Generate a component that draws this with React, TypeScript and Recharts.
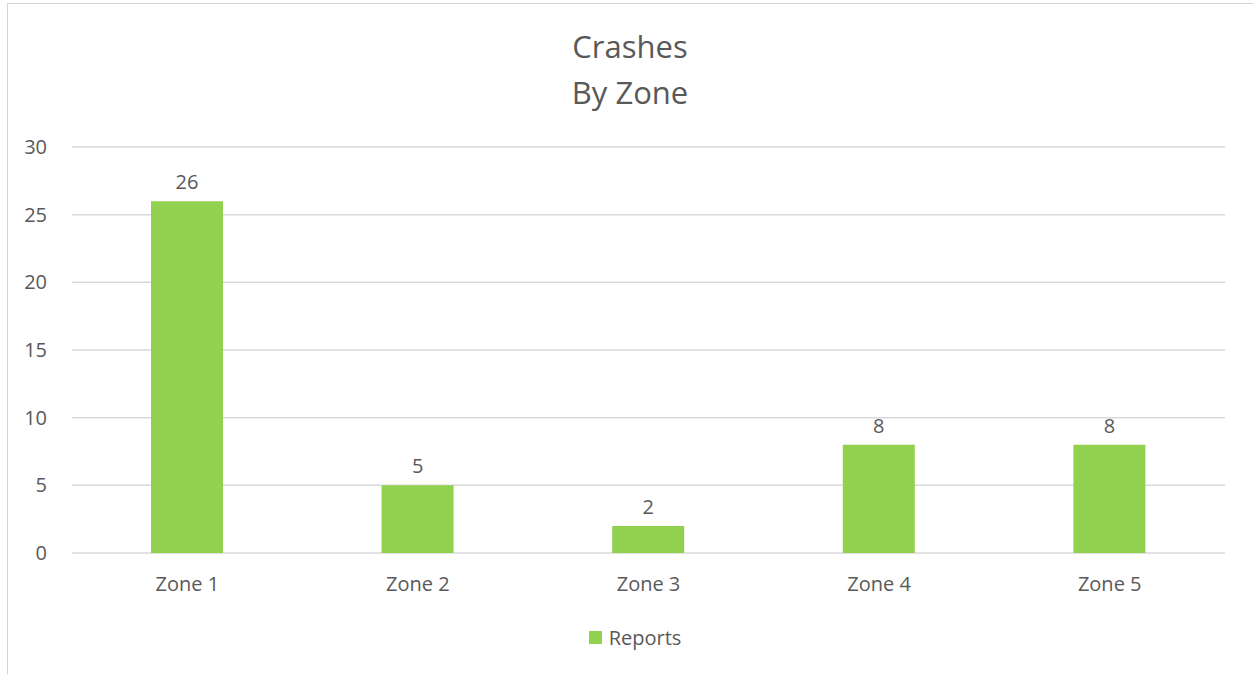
import React from 'react';
import { BarChart, Bar, XAxis, YAxis, CartesianGrid, LabelList, Legend } from 'recharts';

const categories = ['Zone 1', 'Zone 2', 'Zone 3', 'Zone 4', 'Zone 5'];
const reports = [26, 5, 2, 8, 8];
const yTicks = [0, 5, 10, 15, 20, 25, 30];
const seriesName = 'Reports';
const titleLines = ['Crashes', 'By Zone'];

const data = categories.map((c, i) => ({ zone: c, value: reports[i] }));

const FONT = '"Open Sans", "Noto Sans", sans-serif';
const TEXT = '#595959';
const GREEN = '#92d050';

const LegendContent = () => (
  <div
    style={{
      height: 30,
      display: 'flex',
      alignItems: 'center',
      justifyContent: 'center',
      paddingLeft: 17,
      fontFamily: FONT,
      fontSize: 20,
      color: TEXT,
    }}
  >
    <span style={{ display: 'inline-block', width: 13, height: 13, background: GREEN, marginRight: 7 }} />
    <span>{seriesName}</span>
  </div>
);

export default function App() {
  return (
    <div style={{ position: 'absolute', left: 0, top: 0, width: 1253, height: 674, overflow: 'hidden', background: '#fff' }}>
      <div
        style={{
          position: 'absolute',
          left: 7,
          top: 3,
          width: 1246,
          height: 671,
          borderLeft: '1px solid #d4d4d4',
          borderTop: '1px solid #d4d4d4',
          boxSizing: 'border-box',
        }}
      />
      <div
        style={{
          position: 'absolute',
          left: 7,
          width: 1246,
          top: 23,
          textAlign: 'center',
          fontFamily: FONT,
          fontSize: 31,
          lineHeight: '46px',
          color: TEXT,
        }}
      >
        {titleLines.map((t) => (
          <div key={t}>{t}</div>
        ))}
      </div>
      <div style={{ position: 'absolute', left: 0, top: 0 }}>
        <BarChart
          width={1253}
          height={674}
          data={data}
          margin={{ top: 147, right: 28, bottom: 22, left: 12 }}
        >
          <CartesianGrid horizontal vertical={false} stroke="#d9d9d9" strokeWidth={1.5} />
          <XAxis
            dataKey="zone"
            height={69}
            axisLine={false}
            tickLine={false}
            tickSize={6}
            tickMargin={18}
            tick={{ fill: TEXT, fontSize: 20, fontFamily: FONT }}
          />
          <YAxis
            width={60}
            domain={[0, 30]}
            ticks={yTicks}
            axisLine={false}
            tickLine={false}
            tickSize={6}
            tickMargin={19}
            tick={{ fill: TEXT, fontSize: 20, fontFamily: FONT }}
          />
          <Legend verticalAlign="bottom" wrapperStyle={{ left: 0, width: 1253 }} content={<LegendContent />} />
          <Bar dataKey="value" name={seriesName} fill={GREEN} barSize={72} isAnimationActive={false}>
            <LabelList dataKey="value" position="top" offset={12} fill={TEXT} fontSize={20} fontFamily={FONT} />
          </Bar>
        </BarChart>
      </div>
    </div>
  );
}
